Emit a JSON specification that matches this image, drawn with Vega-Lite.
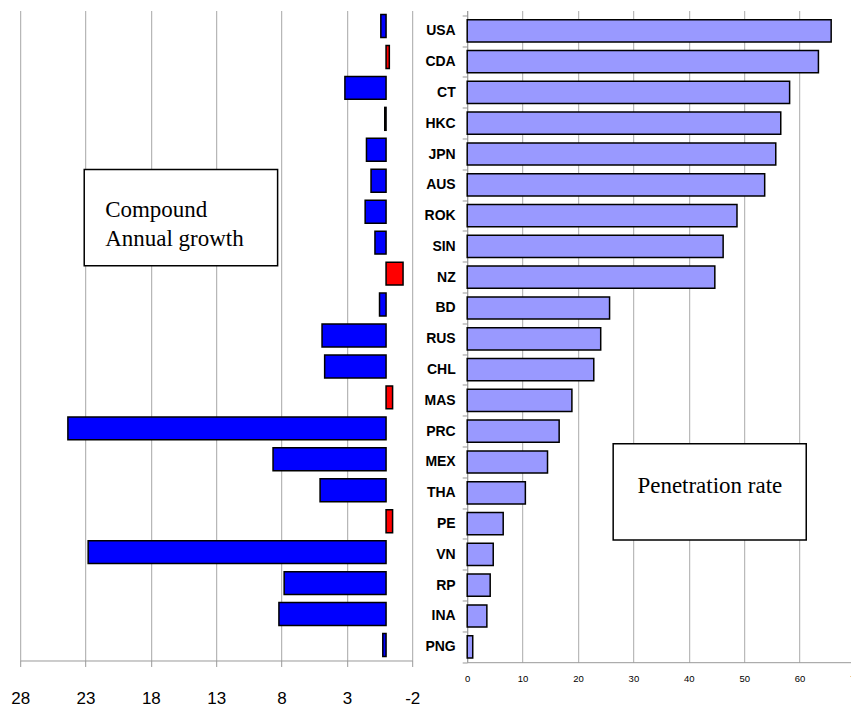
{
  "$schema": "https://vega.github.io/schema/vega-lite/v6.json",
  "background": "white",
  "padding": {"left": 10.2, "top": 3.5, "right": 0, "bottom": 0},
  "config": {"view": {"stroke": null}, "font": "Liberation Sans"},
  "data": {
    "values": [
      {"country": "USA", "growth": 0.4, "penetration": 65.7},
      {"country": "CDA", "growth": -0.25, "penetration": 63.4},
      {"country": "CT", "growth": 3.15, "penetration": 58.2},
      {"country": "HKC", "growth": 0.1, "penetration": 56.6},
      {"country": "JPN", "growth": 1.5, "penetration": 55.7},
      {"country": "AUS", "growth": 1.15, "penetration": 53.7},
      {"country": "ROK", "growth": 1.6, "penetration": 48.7},
      {"country": "SIN", "growth": 0.85, "penetration": 46.2},
      {"country": "NZ", "growth": -1.3, "penetration": 44.7},
      {"country": "BD", "growth": 0.5, "penetration": 25.7},
      {"country": "RUS", "growth": 4.9, "penetration": 24.1},
      {"country": "CHL", "growth": 4.7, "penetration": 22.85},
      {"country": "MAS", "growth": -0.5, "penetration": 18.9},
      {"country": "PRC", "growth": 24.35, "penetration": 16.6},
      {"country": "MEX", "growth": 8.65, "penetration": 14.5},
      {"country": "THA", "growth": 5.05, "penetration": 10.5},
      {"country": "PE", "growth": -0.5, "penetration": 6.5},
      {"country": "VN", "growth": 22.8, "penetration": 4.7},
      {"country": "RP", "growth": 7.8, "penetration": 4.15},
      {"country": "INA", "growth": 8.2, "penetration": 3.55},
      {"country": "PNG", "growth": 0.25, "penetration": 1.0}
    ]
  },
  "spacing": 55,
  "bounds": "flush",
  "hconcat": [
    {
      "width": 392,
      "height": 650,
      "layer": [
        {
          "mark": {"type": "bar", "height": {"band": 0.74}, "stroke": "black", "strokeWidth": 1.5},
          "encoding": {
            "y": {"field": "country", "type": "nominal", "sort": null, "axis": null,
                  "scale": {"paddingInner": 0, "paddingOuter": 0}},
            "x": {"field": "growth", "type": "quantitative",
                  "scale": {"domain": [-2, 28], "reverse": true, "nice": false, "zero": true},
                  "axis": {"values": [-2, 3, 8, 13, 18, 23, 28], "title": null, "grid": true,
                           "gridColor": "#a6a6a6", "domainColor": "#999999", "tickColor": "#999999",
                           "tickSize": 6, "labelFontSize": 17, "labelColor": "black", "labelPadding": 24,
                           "labelFlush": false, "labelFont": "Liberation Sans",
                           "labelExpr": "'' + datum.value"}},
            "fill": {"condition": {"test": "datum.growth < 0", "value": "#ff0000"}, "value": "#0000ff"}
          }
        },
        {
          "data": {"values": [{"note": "Compound\nAnnual growth"}]},
          "layer": [
            {
              "mark": {"type": "rect", "fill": "white", "stroke": "black", "strokeWidth": 1.5},
              "encoding": {
                "x": {"datum": 23.1, "type": "quantitative"},
                "x2": {"datum": 8.3},
                "y": {"datum": 5.14, "type": "quantitative", "axis": null,
                      "scale": {"domain": [0, 21], "reverse": true, "nice": false, "zero": false}},
                "y2": {"datum": 8.25}
              }
            },
            {
              "mark": {"type": "text", "align": "left", "baseline": "alphabetic", "font": "Liberation Serif",
                       "fontSize": 23, "lineBreak": "\n", "lineHeight": 28.3, "fill": "black"},
              "encoding": {
                "x": {"datum": 21.5, "type": "quantitative"},
                "y": {"datum": 6.68, "type": "quantitative", "axis": null,
                      "scale": {"domain": [0, 21], "reverse": true, "nice": false, "zero": false}},
                "text": {"field": "note"}
              }
            }
          ]
        }
      ],
      "resolve": {"scale": {"y": "independent"}}
    },
    {
      "width": 387.8,
      "height": 651.7,
      "layer": [
        {
          "mark": {"type": "bar", "height": {"band": 0.72}, "fill": "#9999ff", "stroke": "black", "strokeWidth": 1.5},
          "encoding": {
            "y": {"field": "country", "type": "nominal", "sort": null,
                  "scale": {"paddingInner": 0, "paddingOuter": 0.0795, "align": 1},
                  "axis": {"title": null, "tickBand": "extent", "domainColor": "#999999", "tickColor": "#999999",
                           "tickSize": 5, "labelFontSize": 14, "labelFontWeight": "bold", "labelColor": "black",
                           "labelPadding": 7, "labelFont": "Liberation Sans"}},
            "x": {"field": "penetration", "type": "quantitative",
                  "scale": {"domain": [0, 70], "nice": false},
                  "axis": {"values": [0, 10, 20, 30, 40, 50, 60, 70], "title": null, "grid": true,
                           "gridColor": "#aaaaaa", "domainColor": "#999999", "ticks": false,
                           "labelFontSize": 9.5, "labelColor": "black", "labelPadding": 11,
                           "labelFlush": false, "labelFont": "Liberation Sans"}}
          }
        },
        {
          "data": {"values": [{"note": "Penetration rate"}]},
          "layer": [
            {
              "mark": {"type": "rect", "fill": "white", "stroke": "black", "strokeWidth": 1.5},
              "encoding": {
                "x": {"datum": 26.35, "type": "quantitative"},
                "x2": {"datum": 61.2},
                "y": {"datum": 13.96, "type": "quantitative", "axis": null,
                      "scale": {"domain": [0, 21], "reverse": true, "nice": false, "zero": false}},
                "y2": {"datum": 17.06}
              }
            },
            {
              "mark": {"type": "text", "align": "center", "baseline": "alphabetic", "font": "Liberation Serif",
                       "fontSize": 23, "fill": "black"},
              "encoding": {
                "x": {"datum": 43.8, "type": "quantitative"},
                "y": {"datum": 15.54, "type": "quantitative", "axis": null,
                      "scale": {"domain": [0, 21], "reverse": true, "nice": false, "zero": false}},
                "text": {"field": "note"}
              }
            }
          ]
        }
      ],
      "resolve": {"scale": {"y": "independent"}}
    }
  ]
}
